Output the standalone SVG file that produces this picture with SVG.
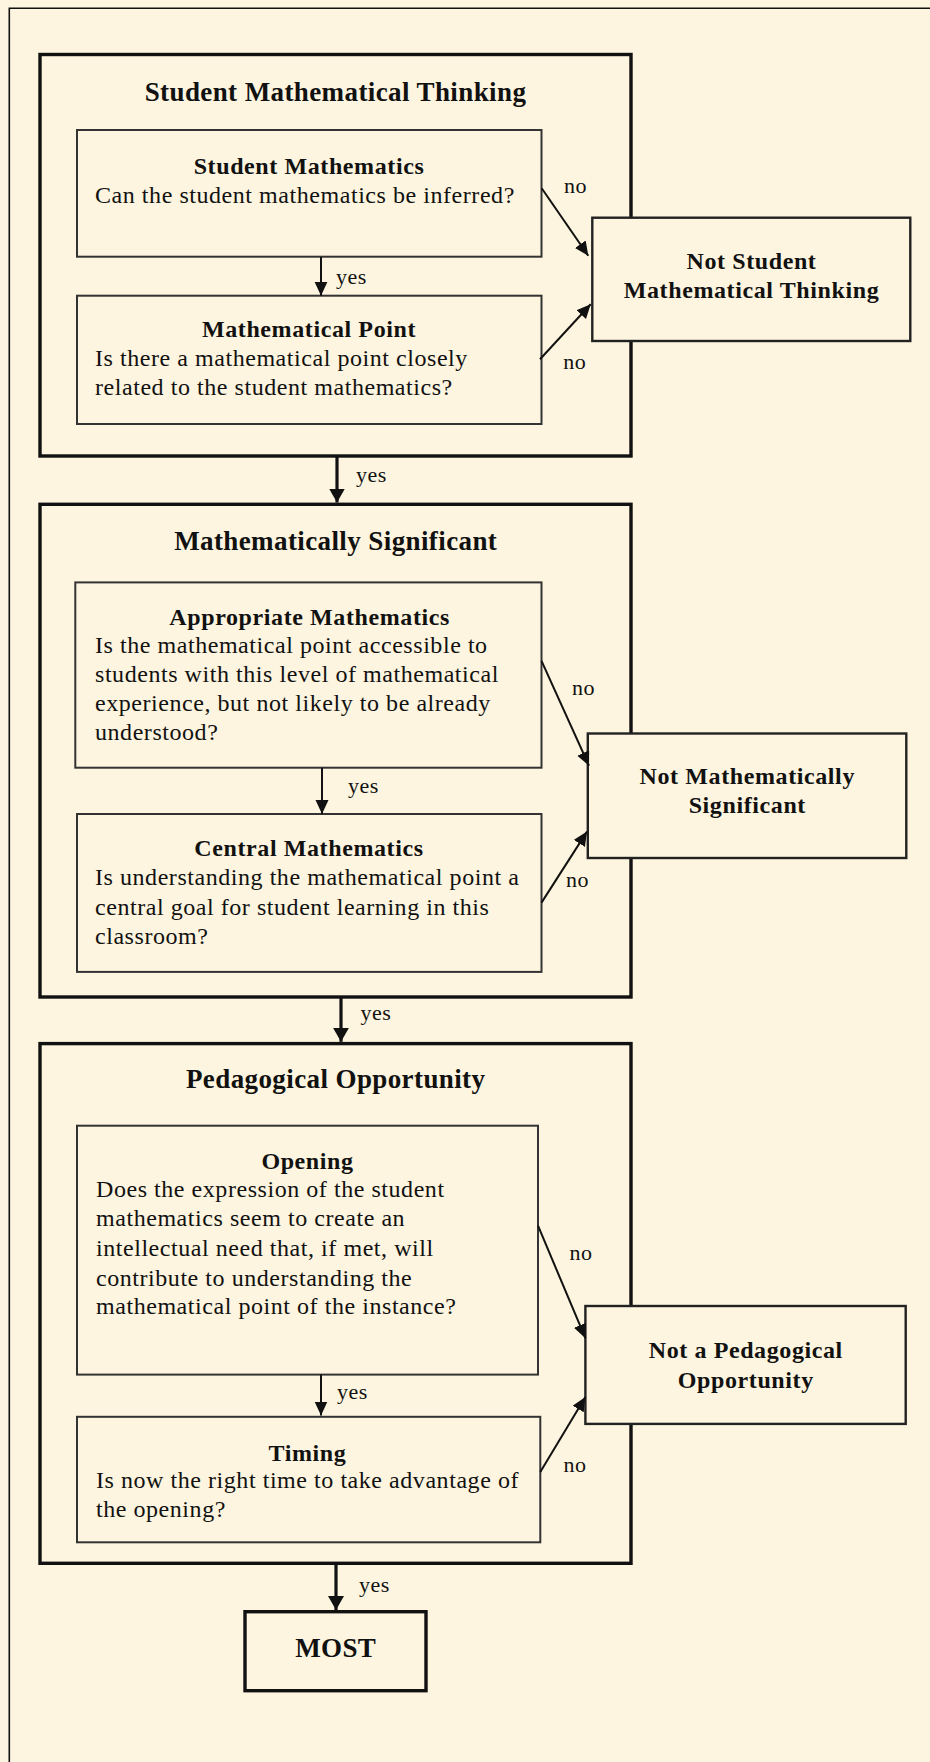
<svg xmlns="http://www.w3.org/2000/svg" width="930" height="1762" viewBox="0 0 930 1762">
<defs>
<style>
.bg{fill:#FDF5DF}
.outer{fill:none;stroke:#111;stroke-width:3.4}
.inner{fill:none;stroke:#333;stroke-width:2}
.term{fill:#FDF5DF;stroke:#222;stroke-width:2.4}
.most{fill:none;stroke:#111;stroke-width:3.4}
.title{font-family:"Liberation Serif","Times New Roman",serif;font-weight:bold;font-size:27px;letter-spacing:0.4px;fill:#111;text-anchor:middle}
.head{font-family:"Liberation Serif","Times New Roman",serif;font-weight:bold;font-size:24px;letter-spacing:0.6px;fill:#111;text-anchor:middle}
.body{font-family:"Liberation Serif","Times New Roman",serif;font-size:24px;letter-spacing:0.55px;fill:#111}
.lbl{font-family:"Liberation Serif","Times New Roman",serif;font-size:22px;letter-spacing:0.5px;fill:#111}
.thin{fill:none;stroke:#111;stroke-width:2}
.thick{fill:none;stroke:#111;stroke-width:3.2}
</style>
<marker id="ah" markerUnits="userSpaceOnUse" markerWidth="16" markerHeight="14" refX="14" refY="6.5" orient="auto">
<path d="M0,0 L14,6.5 L0,13 Z" fill="#111"/>
</marker>
<marker id="ahb" markerUnits="userSpaceOnUse" markerWidth="16" markerHeight="18" refX="14" refY="8" orient="auto">
<path d="M0,0 L14,8 L0,16 Z" fill="#111"/>
</marker>
</defs>
<rect class="bg" x="0" y="0" width="930" height="1762"/>
<path d="M9.3,1762 L9.3,8.3 L930,8.3" fill="none" stroke="#111" stroke-width="1.6"/>

<g id="stage1">
<rect class="outer" x="40" y="54.5" width="591" height="401.5"/>
<text class="title" x="335.5" y="100.5">Student Mathematical Thinking</text>
</g>
<g id="student-mathematics">
<rect class="inner" x="77" y="130" width="464.5" height="126.7"/>
<text class="head" x="309" y="174">Student Mathematics</text>
<text class="body" x="95" y="202.5">Can the student mathematics be inferred?</text>
</g>
<g id="mathematical-point">
<rect class="inner" x="77" y="295.7" width="464.5" height="128.3"/>
<text class="head" x="309" y="336.7">Mathematical Point</text>
<text class="body" x="95" y="365.7">Is there a mathematical point closely</text>
<text class="body" x="95" y="395">related to the student mathematics?</text>
</g>
<g id="not-smt">
<rect class="term" x="592.3" y="217.7" width="318" height="123.3"/>
<text class="head" x="751.5" y="269">Not Student</text>
<text class="head" x="751.5" y="297.7">Mathematical Thinking</text>
</g>

<g id="stage2">
<rect class="outer" x="40" y="504.3" width="591" height="492.7"/>
<text class="title" x="335.7" y="550.3">Mathematically Significant</text>
</g>
<g id="appropriate-mathematics">
<rect class="inner" x="75.3" y="582.4" width="466.2" height="185.3"/>
<text class="head" x="309.7" y="625">Appropriate Mathematics</text>
<text class="body" x="95" y="653.3">Is the mathematical point accessible to</text>
<text class="body" x="95" y="682.2">students with this level of mathematical</text>
<text class="body" x="95" y="711">experience, but not likely to be already</text>
<text class="body" x="95" y="739.5">understood?</text>
</g>
<g id="central-mathematics">
<rect class="inner" x="77" y="814" width="464.5" height="157.9"/>
<text class="head" x="309" y="855.9">Central Mathematics</text>
<text class="body" x="95" y="885">Is understanding the mathematical point a</text>
<text class="body" x="95" y="914.5">central goal for student learning in this</text>
<text class="body" x="95" y="944">classroom?</text>
</g>
<g id="not-ms">
<rect class="term" x="587.8" y="733.5" width="318.5" height="124.5"/>
<text class="head" x="747.3" y="784.3">Not Mathematically</text>
<text class="head" x="747.3" y="813">Significant</text>
</g>

<g id="stage3">
<rect class="outer" x="40" y="1043.6" width="591" height="519.7"/>
<text class="title" x="335.7" y="1088.2">Pedagogical Opportunity</text>
</g>
<g id="opening">
<rect class="inner" x="77" y="1125.7" width="461" height="248.9"/>
<text class="head" x="307.5" y="1168.6">Opening</text>
<text class="body" x="96" y="1197.1">Does the expression of the student</text>
<text class="body" x="96" y="1226.4">mathematics seem to create an</text>
<text class="body" x="96" y="1256">intellectual need that, if met, will</text>
<text class="body" x="96" y="1285.7">contribute to understanding the</text>
<text class="body" x="96" y="1314.3">mathematical point of the instance?</text>
</g>
<g id="timing">
<rect class="inner" x="77" y="1416.8" width="463.3" height="125.5"/>
<text class="head" x="307.5" y="1460.7">Timing</text>
<text class="body" x="96" y="1488.2">Is now the right time to take advantage of</text>
<text class="body" x="96" y="1517">the opening?</text>
</g>
<g id="not-po">
<rect class="term" x="585.4" y="1306" width="320.3" height="117.9"/>
<text class="head" x="745.8" y="1357.9">Not a Pedagogical</text>
<text class="head" x="745.8" y="1387.5">Opportunity</text>
</g>

<g id="most">
<rect class="most" x="245" y="1611.7" width="181" height="79"/>
<text class="title" x="335.7" y="1657.3">MOST</text>
</g>

<g id="connectors">
<line class="thin" x1="321" y1="257" x2="321" y2="295.7" marker-end="url(#ah)"/>
<text class="lbl" x="336" y="284">yes</text>
<line class="thin" x1="541.7" y1="188.3" x2="588.3" y2="255.7" marker-end="url(#ah)"/>
<text class="lbl" x="564" y="193.3">no</text>
<line class="thin" x1="540" y1="359.3" x2="590.7" y2="304.3" marker-end="url(#ah)"/>
<text class="lbl" x="563.3" y="369.3">no</text>
<line class="thick" x1="337" y1="456" x2="337" y2="502.5" marker-end="url(#ahb)"/>
<text class="lbl" x="356" y="481.7">yes</text>

<line class="thin" x1="322" y1="767.7" x2="322" y2="814" marker-end="url(#ah)"/>
<text class="lbl" x="348" y="792.7">yes</text>
<line class="thin" x1="541.5" y1="660.9" x2="589" y2="765.7" marker-end="url(#ah)"/>
<text class="lbl" x="572" y="694.7">no</text>
<line class="thin" x1="541.5" y1="902.6" x2="587" y2="831.6" marker-end="url(#ah)"/>
<text class="lbl" x="566" y="887.4">no</text>
<line class="thick" x1="341" y1="997" x2="341" y2="1041.8" marker-end="url(#ahb)"/>
<text class="lbl" x="360.6" y="1020.4">yes</text>

<line class="thin" x1="321" y1="1374.6" x2="321" y2="1415.5" marker-end="url(#ah)"/>
<text class="lbl" x="337" y="1398.9">yes</text>
<line class="thin" x1="538" y1="1225.7" x2="585.4" y2="1338.2" marker-end="url(#ah)"/>
<text class="lbl" x="569.4" y="1259.6">no</text>
<line class="thin" x1="540.3" y1="1472" x2="585.4" y2="1397" marker-end="url(#ah)"/>
<text class="lbl" x="563.5" y="1472">no</text>
<line class="thick" x1="336" y1="1563.3" x2="336" y2="1610" marker-end="url(#ahb)"/>
<text class="lbl" x="359" y="1592">yes</text>
</g>
</svg>
